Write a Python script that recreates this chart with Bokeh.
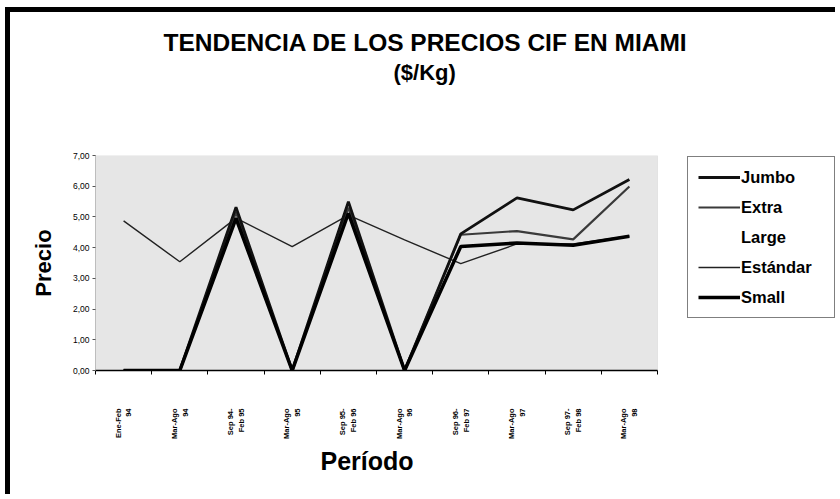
import math
from bokeh.plotting import figure
from bokeh.models import Range1d, FixedTicker, Legend, LegendItem, Title, BoxAnnotation
from bokeh.embed import file_html
from bokeh.resources import INLINE

periodos = ["Ene-Feb\n94", "Mar-Ago\n94", "Sep 94-\nFeb 95", "Mar-Ago\n95",
            "Sep 95-\nFeb 96", "Mar-Ago\n96", "Sep 96-\nFeb 97", "Mar-Ago\n97",
            "Sep 97-\nFeb 98", "Mar-Ago\n98"]
jumbo = [0, 0, 5.32, 0, 5.50, 0, 4.45, 5.62, 5.23, 6.22]
extra_large = [0, 0, 5.15, 0, 5.30, 0, 4.42, 4.54, 4.27, 5.99]
estandar = [4.87, 3.54, 4.96, 4.03, 5.06, 4.25, 3.48, 4.12, 4.12, 4.38]
small = [0, 0, 4.95, 0, 5.12, 0, 4.04, 4.15, 4.08, 4.37]
y_ticks = [0, 1, 2, 3, 4, 5, 6, 7]
y_labels = ["0,00", "1,00", "2,00", "3,00", "4,00", "5,00", "6,00", "7,00"]

xs = list(range(len(periodos)))
FONT = "Liberation Sans"

# layout (pixels)
W, H = 830, 487
LEFT, BOTTOM, TOP = 85, 129, 143
PLOT_W = 562                    # width of the chart area proper
EXTRA_W = W - LEFT - PLOT_W     # room at right kept inside the frame for the legend
n = len(periodos)
x_end = n - 0.5 + EXTRA_W * n / PLOT_W

p = figure(width=W, height=H, output_backend="svg", toolbar_location=None,
           x_range=Range1d(-0.5, x_end), y_range=Range1d(y_ticks[0], y_ticks[-1]),
           min_border_left=LEFT, min_border_right=0, min_border_top=TOP,
           min_border_bottom=BOTTOM)
p.styles = {"margin-left": "5px", "margin-top": "7px",
            "border-left": "5px solid #000", "border-top": "5px solid #000"}

p.background_fill_color = "white"
p.border_fill_color = "white"
p.outline_line_color = None
p.xgrid.grid_line_color = None
p.ygrid.grid_line_color = None

area = BoxAnnotation(left=-0.5, right=n - 0.5, bottom=y_ticks[0], top=y_ticks[-1],
                     fill_color="#e6e6e6", fill_alpha=1.0, line_color="#8a8a8a",
                     line_dash="1 1", line_width=1, level="underlay")
p.add_layout(area)

xa = p.xaxis[0]
xa.bounds = (-0.5, n - 0.5)
xa.ticker = FixedTicker(ticks=xs, minor_ticks=[i - 0.5 for i in range(n + 1)])
xa.major_label_overrides = {i: lab for i, lab in enumerate(periodos)}
xa.major_tick_line_color = None
xa.minor_tick_line_color = "black"
xa.minor_tick_out = 4
xa.minor_tick_in = 0
xa.axis_line_color = "black"
xa.axis_line_width = 1.5
xa.major_label_orientation = math.pi / 2
xa.major_label_text_font = FONT
xa.major_label_text_font_size = "7.5px"
xa.major_label_text_font_style = "bold"
xa.major_label_text_color = "black"
xa.major_label_standoff = 32

ya = p.yaxis[0]
ya.ticker = FixedTicker(ticks=y_ticks)
ya.major_label_overrides = {t: l for t, l in zip(y_ticks, y_labels)}
ya.axis_line_color = "#8a8a8a"
ya.axis_line_dash = "1 1"
ya.major_tick_out = 3
ya.major_tick_in = 0
ya.major_tick_line_color = "#555555"
ya.minor_tick_line_color = None
ya.major_label_text_font = FONT
ya.major_label_text_font_size = "8.5px"
ya.major_label_text_color = "black"
ya.major_label_standoff = 3
ya.axis_label = "Precio"
ya.axis_label_text_font = FONT
ya.axis_label_text_font_size = "22px"
ya.axis_label_text_font_style = "bold"
ya.axis_label_text_color = "black"
ya.axis_label_standoff = 14

r_est = p.line(xs, estandar, line_color="#222222", line_width=1.4)
r_extra = p.line(xs, extra_large, line_color="#3a3a3a", line_width=2.2)
r_jumbo = p.line(xs, jumbo, line_color="#111111", line_width=2.8)
r_small = p.line(xs, small, line_color="#000000", line_width=3.5)
r_blank = p.line(x=[], y=[], line_alpha=0)

legend = Legend(items=[LegendItem(label="Jumbo", renderers=[r_jumbo]),
                       LegendItem(label="Extra", renderers=[r_extra]),
                       LegendItem(label="Large", renderers=[r_blank]),
                       LegendItem(label="Estándar", renderers=[r_est]),
                       LegendItem(label="Small", renderers=[r_small])],
                location=(592, 52), orientation="vertical",
                label_text_font=FONT, label_text_font_size="16.5px",
                label_text_font_style="bold", label_text_color="black",
                glyph_width=42, glyph_height=20,
                label_height=20, label_width=83, spacing=10, padding=10, margin=0,
                label_standoff=1, border_line_color="black", border_line_width=1.5,
                background_fill_color="white", background_fill_alpha=1.0)
p.add_layout(legend)

# title block: spacer nearest the frame, then the unit line, then the main line
spacer = Title(text=" ", text_font_size="1px", standoff=66)
p.add_layout(spacer, "above")
sub = Title(text="($/Kg)", align="left", offset=298, standoff=4,
            text_font=FONT, text_font_size="22px", text_font_style="bold",
            text_color="black")
p.add_layout(sub, "above")
main = Title(text="TENDENCIA DE LOS PRECIOS CIF EN MIAMI", align="left", offset=68,
             standoff=0, text_font=FONT, text_font_size="24.5px",
             text_font_style="bold", text_color="black")
p.add_layout(main, "above")

xlab = Title(text="Período", align="left", offset=225, standoff=6,
             text_font=FONT, text_font_size="25px", text_font_style="bold",
             text_color="black")
p.add_layout(xlab, "below")

open("out.html", "w").write(file_html(p, INLINE))
